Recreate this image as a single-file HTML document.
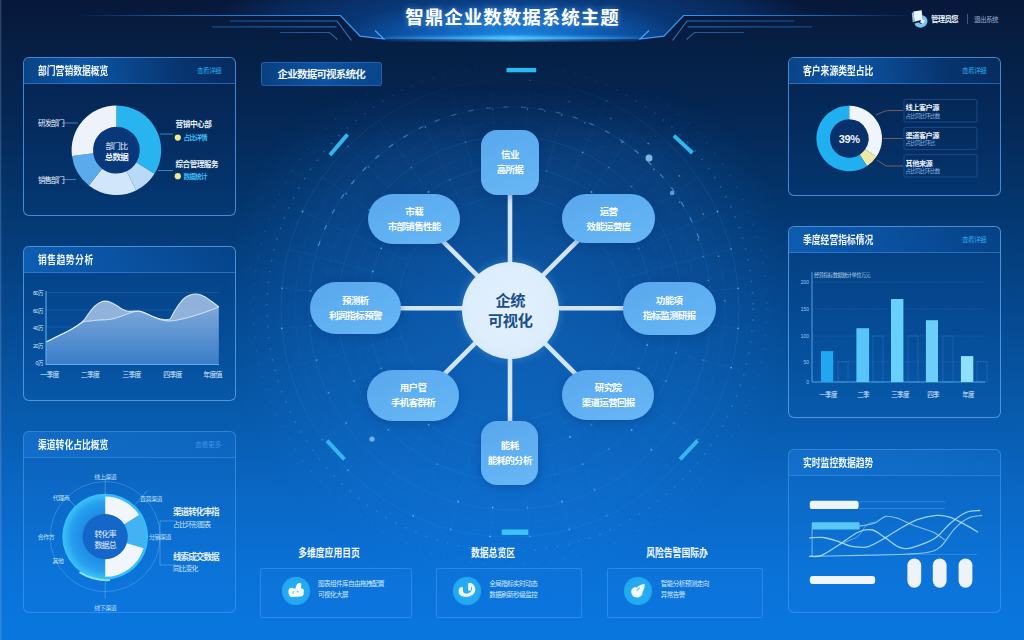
<!DOCTYPE html>
<html lang="zh-CN">
<head>
<meta charset="utf-8">
<title>智鼎企业数数据系统主题</title>
<style>
html,body{margin:0;padding:0;}
body{width:1024px;height:640px;overflow:hidden;background:#0d4ea8;font-family:"Liberation Sans","Noto Sans CJK SC",sans-serif;color:#fff;}
#app{position:relative;width:1024px;height:640px;overflow:hidden;
 background:linear-gradient(180deg,#07183a 0%,#062045 8%,#052653 17%,#04356c 31%,#05468c 47%,#0758a8 62.5%,#0a68c6 78%,#0a72d8 90%,#0976de 98%);}
#bgsvg{position:absolute;left:0;top:0;width:1024px;height:640px;}
.panel{position:absolute;box-sizing:border-box;border:1.2px solid rgba(58,140,230,.75);border-radius:6px;overflow:hidden;}
.panel .hd{position:absolute;left:0;top:0;right:0;height:26px;box-sizing:border-box;border-bottom:1px solid rgba(58,140,230,.55);}
.panel .hd .t{position:absolute;left:14px;top:0;line-height:26px;font-size:11px;color:#f2f8ff;white-space:nowrap;font-weight:700;transform:scaleX(.8);transform-origin:0 50%;}
.panel .hd .m{position:absolute;right:14px;top:0;line-height:26px;font-size:6.5px;letter-spacing:-.5px;color:#2fa8f0;white-space:nowrap;}
.panel svg{position:absolute;left:-1.2px;top:-1.2px;}
.dk{background:rgba(10,70,150,.10);border-color:rgba(84,150,228,.85);}
.dk .hd{background:linear-gradient(90deg,rgba(12,88,170,.6) 0%,rgba(14,96,182,.82) 28%,rgba(10,74,154,.4) 75%,rgba(10,70,150,.22) 100%);}
.lt{background:rgba(40,140,245,.07);border-color:rgba(80,160,245,.55);}
.lt .hd{background:linear-gradient(90deg,rgba(50,150,250,.2),rgba(40,140,245,.08));border-bottom-color:rgba(80,160,245,.4);}
.md{background:rgba(14,90,180,.10);border-color:rgba(92,164,240,.8);}
.md .hd{background:linear-gradient(90deg,rgba(20,112,210,.6) 0%,rgba(18,104,200,.5) 35%,rgba(14,90,180,.15) 100%);border-bottom-color:rgba(66,150,235,.5);}
.title{position:absolute;left:0;width:1024px;top:5.5px;text-align:center;font-size:18.5px;font-weight:700;letter-spacing:1px;text-indent:1px;line-height:24px;color:#fff;text-shadow:0 0 6px rgba(120,190,255,.6);}
.tag{position:absolute;left:260.5px;top:62px;width:121.5px;height:24px;box-sizing:border-box;border:1px solid rgba(44,116,200,.6);border-radius:3px;background:linear-gradient(90deg,#08407f,#0c52a2 50%,#094589);font-size:10.5px;line-height:22.5px;text-align:center;letter-spacing:-.8px;color:#f4f9ff;font-weight:700;}
.node{position:absolute;box-sizing:border-box;background:linear-gradient(160deg,#59a6ec 0%,#5fb0f2 50%,#68b6f4 100%);color:#fff;text-align:center;font-size:9px;line-height:15px;display:flex;flex-direction:column;justify-content:center;align-items:center;box-shadow:0 2px 10px rgba(10,50,120,.35);}
.node b{font-weight:700;font-size:9.5px;letter-spacing:-.6px;}
.node span{font-weight:700;font-size:9.5px;letter-spacing:-.7px;white-space:nowrap;}
.pill{border-radius:25px;width:92.5px;height:50px;}
.sq{border-radius:16px;width:57.5px;height:64.5px;}
.hub{position:absolute;left:461.6px;top:261.5px;width:97.4px;height:97.4px;border-radius:50%;background:radial-gradient(circle at 50% 48%,#e4f1fd 0%,#dcedfc 60%,#cfe5f9 100%);box-shadow:0 0 10px rgba(150,205,255,.3);color:#1a4f8c;display:flex;flex-direction:column;justify-content:center;align-items:center;font-weight:500;}
.hub span{position:relative;top:.8px;font-size:15.2px;line-height:20px;letter-spacing:-.3px;font-weight:700;}
.bh{position:absolute;top:544.5px;font-size:11px;line-height:16px;color:#f4f9ff;white-space:nowrap;transform:translateX(-50%) scaleX(.8);font-weight:700;}
.card{position:absolute;top:568px;height:50px;box-sizing:border-box;border:1px solid rgba(70,155,245,.55);border-radius:2px;background:rgba(30,125,230,.12);}
.card .ic{position:absolute;left:21px;top:8.2px;width:28px;height:28px;border-radius:50%;background:radial-gradient(circle,#27b0f3 0%,#22a8f0 70%,#1e9eec 100%);box-shadow:0 0 2px rgba(40,150,235,.6);}
.card .ic svg{position:absolute;left:0;top:0;}
.card p{position:absolute;left:57px;margin:0;font-size:6.6px;line-height:9px;letter-spacing:-.6px;color:#d6ebff;white-space:nowrap;}
.usr{position:absolute;top:13.8px;font-size:7.5px;line-height:12px;letter-spacing:-.8px;white-space:nowrap;}
</style>
</head>
<body>
<div id="app">

<svg id="bgsvg" viewBox="0 0 1024 640">
<defs>
<radialGradient id="hg" cx="512" cy="38" r="310" gradientUnits="userSpaceOnUse" gradientTransform="translate(0 26.6) scale(1 .3)">
<stop offset="0" stop-color="#0e58b0" stop-opacity=".9"/><stop offset=".5" stop-color="#0b4c9e" stop-opacity=".6"/><stop offset=".8" stop-color="#0b4c9e" stop-opacity=".3"/><stop offset="1" stop-color="#0b4c9e" stop-opacity="0"/></radialGradient>
<radialGradient id="hg2" cx="512" cy="39" r="175" gradientUnits="userSpaceOnUse" gradientTransform="translate(0 30) scale(1 .23)">
<stop offset="0" stop-color="#2098f0" stop-opacity=".98"/><stop offset=".45" stop-color="#1474d8" stop-opacity=".62"/><stop offset="1" stop-color="#1060c0" stop-opacity="0"/></radialGradient>
<linearGradient id="hl" x1="385" x2="640" y1="0" y2="0" gradientUnits="userSpaceOnUse"><stop offset="0" stop-color="#2a8cf0" stop-opacity=".2"/><stop offset=".5" stop-color="#55c4ff" stop-opacity="1"/><stop offset="1" stop-color="#2a8cf0" stop-opacity=".2"/></linearGradient>
<linearGradient id="ll" x1="78" x2="385" y1="0" y2="0" gradientUnits="userSpaceOnUse"><stop offset="0" stop-color="#2b86e8" stop-opacity="0"/><stop offset=".35" stop-color="#2b86e8" stop-opacity=".7"/><stop offset="1" stop-color="#45a4ff" stop-opacity="1"/></linearGradient>
<linearGradient id="lr" x1="912" x2="639" y1="0" y2="0" gradientUnits="userSpaceOnUse"><stop offset="0" stop-color="#2b86e8" stop-opacity="0"/><stop offset=".35" stop-color="#2b86e8" stop-opacity=".7"/><stop offset="1" stop-color="#45a4ff" stop-opacity="1"/></linearGradient>
<radialGradient id="cg" cx="510" cy="308" r="290" gradientUnits="userSpaceOnUse"><stop offset="0" stop-color="#1d80e8" stop-opacity=".34"/><stop offset=".283" stop-color="#1d80e8" stop-opacity=".28"/><stop offset=".572" stop-color="#1d80e8" stop-opacity=".19"/><stop offset=".672" stop-color="#1d80e8" stop-opacity=".175"/><stop offset=".828" stop-color="#1d80e8" stop-opacity=".09"/><stop offset="1" stop-color="#1d80e8" stop-opacity="0"/></radialGradient>
<linearGradient id="mg" x1="0" x2="0" y1="55" y2="150" gradientUnits="userSpaceOnUse"><stop offset="0" stop-color="#fff" stop-opacity=".05"/><stop offset="1" stop-color="#fff" stop-opacity="1"/></linearGradient><mask id="wm" maskUnits="userSpaceOnUse" x="240" y="40" width="540" height="540"><rect x="240" y="40" width="540" height="540" fill="url(#mg)"/></mask>
<linearGradient id="mg2" x1="0" x2="0" y1="85" y2="150" gradientUnits="userSpaceOnUse"><stop offset="0" stop-color="#fff" stop-opacity="0"/><stop offset="1" stop-color="#fff" stop-opacity="1"/></linearGradient><mask id="gm" maskUnits="userSpaceOnUse" x="200" y="0" width="620" height="640"><rect x="200" y="0" width="620" height="640" fill="url(#mg2)"/></mask>
<filter id="bl"><feGaussianBlur stdDeviation="1.5"/></filter>
</defs>
<path d="M0 0H1024V15.5H683.5L664 36L640 39H384L360 36L340.5 15.5H0Z" fill="url(#hg)"/>
<path d="M0 0H1024V15.5H683.5L664 36L640 39H384L360 36L340.5 15.5H0Z" fill="url(#hg2)"/>
<rect x="385" y="36" width="255" height="5" fill="url(#hl)" filter="url(#bl)"/>
<rect x="385" y="37.3" width="255" height="1.8" fill="url(#hl)"/>
<g fill="none" stroke-width="1.2">
<path d="M76 15.5H340.5L360 36.2L384 39L375 30.5" stroke="url(#ll)"/>
<path d="M230 21H337L351.5 40.5" stroke="url(#ll)" stroke-opacity=".7"/>
<path d="M212 26.8H336.5" stroke="url(#ll)" stroke-opacity=".6"/>
<path d="M280 32.5H329.5L337.5 39.5" stroke="url(#ll)" stroke-opacity=".55"/>
<path d="M912 15.5H683.5L664 36.2L640 39L649 30.5" stroke="url(#lr)"/>
<path d="M794 21H687L672.5 40.5" stroke="url(#lr)" stroke-opacity=".7"/>
<path d="M812 26.8H687.5" stroke="url(#lr)" stroke-opacity=".6"/>
<path d="M744 32.5H694.5L686.5 39.5" stroke="url(#lr)" stroke-opacity=".55"/>
</g>
<circle cx="510" cy="308" r="290" fill="url(#cg)" mask="url(#gm)"/>
<g mask="url(#wm)">
<g fill="none" stroke="#49a8f2" stroke-width=".8">
<circle cx="510" cy="308.3" r="112" stroke-opacity="0.13"/>
<circle cx="510" cy="308.3" r="127" stroke-opacity="0.1" stroke-dasharray="14 5"/>
<circle cx="510" cy="308.3" r="142" stroke-opacity="0.14"/>
<circle cx="510" cy="308.3" r="157" stroke-opacity="0.1" stroke-dasharray="20 6"/>
<circle cx="510" cy="308.3" r="172" stroke-opacity="0.15"/>
<circle cx="510" cy="308.3" r="186" stroke-opacity="0.1" stroke-dasharray="9 5"/>
<circle cx="510" cy="308.3" r="215" stroke-opacity="0.1" stroke-dasharray="16 7"/>
<circle cx="510" cy="308.3" r="229" stroke-opacity="0.17"/>
<path d="M318.4 246.0A201.5 201.5 0 0 1 701.6 246.0" stroke="#62bcf4" stroke-opacity=".55" stroke-width="1.3" stroke-dasharray="5 12.6"/>
<circle cx="510" cy="308.3" r="201.5" stroke-opacity=".16"/>
<circle cx="510" cy="308.3" r="243" stroke-opacity=".4" stroke-width="1.4" stroke-dasharray="1.6 9.5"/>
<circle cx="510" cy="308.3" r="257" stroke-opacity=".25" stroke-width="1.2" stroke-dasharray="1.4 12"/>
</g>
<g stroke="#49a8f2" stroke-opacity=".11" stroke-width=".8">
<line x1="621.6" y1="318.1" x2="738.1" y2="328.3"/>
<line x1="647.2" y1="345.1" x2="731.2" y2="367.6"/>
<line x1="611.5" y1="355.6" x2="717.5" y2="405.1"/>
<line x1="626.3" y1="389.7" x2="697.6" y2="439.6"/>
<line x1="589.2" y1="387.5" x2="671.9" y2="470.2"/>
<line x1="591.4" y1="424.6" x2="641.3" y2="495.9"/>
<line x1="557.3" y1="409.8" x2="606.8" y2="515.8"/>
<line x1="546.8" y1="445.5" x2="569.3" y2="529.5"/>
<line x1="519.8" y1="419.9" x2="530.0" y2="536.4"/>
<line x1="497.6" y1="449.8" x2="490.0" y2="536.4"/>
<line x1="481.0" y1="416.5" x2="450.7" y2="529.5"/>
<line x1="450.0" y1="437.0" x2="413.2" y2="515.8"/>
<line x1="445.8" y1="400.0" x2="378.7" y2="495.9"/>
<line x1="409.6" y1="408.7" x2="348.1" y2="470.2"/>
<line x1="418.3" y1="372.5" x2="322.4" y2="439.6"/>
<line x1="381.3" y1="368.3" x2="302.5" y2="405.1"/>
<line x1="401.8" y1="337.3" x2="288.8" y2="367.6"/>
<line x1="368.5" y1="320.7" x2="281.9" y2="328.3"/>
<line x1="398.4" y1="298.5" x2="281.9" y2="288.3"/>
<line x1="372.8" y1="271.5" x2="288.8" y2="249.0"/>
<line x1="408.5" y1="261.0" x2="302.5" y2="211.5"/>
<line x1="393.7" y1="226.9" x2="322.4" y2="177.0"/>
<line x1="430.8" y1="229.1" x2="348.1" y2="146.4"/>
<line x1="428.6" y1="192.0" x2="378.7" y2="120.7"/>
<line x1="462.7" y1="206.8" x2="413.2" y2="100.8"/>
<line x1="473.2" y1="171.1" x2="450.7" y2="87.1"/>
<line x1="500.2" y1="196.7" x2="490.0" y2="80.2"/>
<line x1="522.4" y1="166.8" x2="530.0" y2="80.2"/>
<line x1="539.0" y1="200.1" x2="569.3" y2="87.1"/>
<line x1="570.0" y1="179.6" x2="606.8" y2="100.8"/>
<line x1="574.2" y1="216.6" x2="641.3" y2="120.7"/>
<line x1="610.4" y1="207.9" x2="671.9" y2="146.4"/>
<line x1="601.7" y1="244.1" x2="697.6" y2="177.0"/>
<line x1="638.7" y1="248.3" x2="717.5" y2="211.5"/>
<line x1="618.2" y1="279.3" x2="731.2" y2="249.0"/>
<line x1="651.5" y1="295.9" x2="738.1" y2="288.3"/>
</g>
<g fill="#7fd0fb">
<circle cx="651.5" cy="320.7" r=".9" fill-opacity="0.35"/>
<circle cx="681.3" cy="323.3" r=".9" fill-opacity="0.35"/>
<circle cx="709.2" cy="325.7" r=".9" fill-opacity="0.7"/>
<circle cx="738.1" cy="328.3" r=".9" fill-opacity="0.7"/>
<circle cx="647.2" cy="345.1" r=".9" fill-opacity="0.7"/>
<circle cx="676.1" cy="352.8" r=".9" fill-opacity="0.35"/>
<circle cx="703.2" cy="360.1" r=".9" fill-opacity="0.35"/>
<circle cx="731.2" cy="367.6" r=".9" fill-opacity="0.7"/>
<circle cx="638.7" cy="368.3" r=".9" fill-opacity="0.7"/>
<circle cx="665.9" cy="381.0" r=".9" fill-opacity="0.35"/>
<circle cx="626.3" cy="389.7" r=".9" fill-opacity="0.7"/>
<circle cx="650.9" cy="407.0" r=".9" fill-opacity="0.35"/>
<circle cx="673.8" cy="423.0" r=".9" fill-opacity="0.35"/>
<circle cx="697.6" cy="439.6" r=".9" fill-opacity="0.35"/>
<circle cx="610.4" cy="408.7" r=".9" fill-opacity="0.7"/>
<circle cx="631.6" cy="429.9" r=".9" fill-opacity="0.7"/>
<circle cx="651.4" cy="449.7" r=".9" fill-opacity="0.7"/>
<circle cx="591.4" cy="424.6" r=".9" fill-opacity="0.35"/>
<circle cx="608.7" cy="449.2" r=".9" fill-opacity="0.35"/>
<circle cx="570.0" cy="437.0" r=".9" fill-opacity="0.7"/>
<circle cx="582.7" cy="464.2" r=".9" fill-opacity="0.5"/>
<circle cx="594.5" cy="489.6" r=".9" fill-opacity="0.5"/>
<circle cx="606.8" cy="515.8" r=".9" fill-opacity="0.35"/>
<circle cx="561.8" cy="501.5" r=".9" fill-opacity="0.7"/>
<circle cx="569.3" cy="529.5" r=".9" fill-opacity="0.5"/>
<circle cx="527.4" cy="507.5" r=".9" fill-opacity="0.35"/>
<circle cx="530.0" cy="536.4" r=".9" fill-opacity="0.5"/>
<circle cx="497.6" cy="449.8" r=".9" fill-opacity="0.5"/>
<circle cx="495.0" cy="479.6" r=".9" fill-opacity="0.5"/>
<circle cx="492.6" cy="507.5" r=".9" fill-opacity="0.7"/>
<circle cx="490.0" cy="536.4" r=".9" fill-opacity="0.7"/>
<circle cx="458.2" cy="501.5" r=".9" fill-opacity="0.7"/>
<circle cx="450.7" cy="529.5" r=".9" fill-opacity="0.5"/>
<circle cx="437.3" cy="464.2" r=".9" fill-opacity="0.35"/>
<circle cx="413.2" cy="515.8" r=".9" fill-opacity="0.7"/>
<circle cx="428.6" cy="424.6" r=".9" fill-opacity="0.7"/>
<circle cx="388.4" cy="429.9" r=".9" fill-opacity="0.5"/>
<circle cx="348.1" cy="470.2" r=".9" fill-opacity="0.5"/>
<circle cx="393.7" cy="389.7" r=".9" fill-opacity="0.7"/>
<circle cx="369.1" cy="407.0" r=".9" fill-opacity="0.35"/>
<circle cx="346.2" cy="423.0" r=".9" fill-opacity="0.5"/>
<circle cx="322.4" cy="439.6" r=".9" fill-opacity="0.35"/>
<circle cx="381.3" cy="368.3" r=".9" fill-opacity="0.5"/>
<circle cx="354.1" cy="381.0" r=".9" fill-opacity="0.5"/>
<circle cx="328.7" cy="392.8" r=".9" fill-opacity="0.5"/>
<circle cx="316.8" cy="360.1" r=".9" fill-opacity="0.5"/>
<circle cx="338.7" cy="323.3" r=".9" fill-opacity="0.35"/>
<circle cx="310.8" cy="325.7" r=".9" fill-opacity="0.35"/>
<circle cx="281.9" cy="328.3" r=".9" fill-opacity="0.7"/>
<circle cx="368.5" cy="295.9" r=".9" fill-opacity="0.5"/>
<circle cx="310.8" cy="290.9" r=".9" fill-opacity="0.5"/>
<circle cx="281.9" cy="288.3" r=".9" fill-opacity="0.5"/>
<circle cx="372.8" cy="271.5" r=".9" fill-opacity="0.7"/>
<circle cx="381.3" cy="248.3" r=".9" fill-opacity="0.7"/>
<circle cx="302.5" cy="211.5" r=".9" fill-opacity="0.7"/>
<circle cx="369.1" cy="209.6" r=".9" fill-opacity="0.5"/>
<circle cx="346.2" cy="193.6" r=".9" fill-opacity="0.5"/>
<circle cx="409.6" cy="207.9" r=".9" fill-opacity="0.35"/>
<circle cx="368.6" cy="166.9" r=".9" fill-opacity="0.35"/>
<circle cx="348.1" cy="146.4" r=".9" fill-opacity="0.35"/>
<circle cx="428.6" cy="192.0" r=".9" fill-opacity="0.7"/>
<circle cx="411.3" cy="167.4" r=".9" fill-opacity="0.35"/>
<circle cx="450.0" cy="179.6" r=".9" fill-opacity="0.35"/>
<circle cx="425.5" cy="127.0" r=".9" fill-opacity="0.5"/>
<circle cx="465.5" cy="142.2" r=".9" fill-opacity="0.35"/>
<circle cx="497.6" cy="166.8" r=".9" fill-opacity="0.5"/>
<circle cx="495.0" cy="137.0" r=".9" fill-opacity="0.35"/>
<circle cx="492.6" cy="109.1" r=".9" fill-opacity="0.5"/>
<circle cx="522.4" cy="166.8" r=".9" fill-opacity="0.7"/>
<circle cx="525.0" cy="137.0" r=".9" fill-opacity="0.35"/>
<circle cx="527.4" cy="109.1" r=".9" fill-opacity="0.7"/>
<circle cx="530.0" cy="80.2" r=".9" fill-opacity="0.7"/>
<circle cx="546.8" cy="171.1" r=".9" fill-opacity="0.35"/>
<circle cx="561.8" cy="115.1" r=".9" fill-opacity="0.7"/>
<circle cx="582.7" cy="152.4" r=".9" fill-opacity="0.5"/>
<circle cx="606.8" cy="100.8" r=".9" fill-opacity="0.35"/>
<circle cx="591.4" cy="192.0" r=".9" fill-opacity="0.7"/>
<circle cx="608.7" cy="167.4" r=".9" fill-opacity="0.35"/>
<circle cx="631.6" cy="186.7" r=".9" fill-opacity="0.35"/>
<circle cx="626.3" cy="226.9" r=".9" fill-opacity="0.7"/>
<circle cx="650.9" cy="209.6" r=".9" fill-opacity="0.7"/>
<circle cx="673.8" cy="193.6" r=".9" fill-opacity="0.35"/>
<circle cx="638.7" cy="248.3" r=".9" fill-opacity="0.35"/>
<circle cx="717.5" cy="211.5" r=".9" fill-opacity="0.7"/>
<circle cx="703.2" cy="256.5" r=".9" fill-opacity="0.35"/>
<circle cx="731.2" cy="249.0" r=".9" fill-opacity="0.5"/>
<circle cx="651.5" cy="295.9" r=".9" fill-opacity="0.35"/>
<circle cx="681.3" cy="293.3" r=".9" fill-opacity="0.7"/>
<circle cx="738.1" cy="288.3" r=".9" fill-opacity="0.7"/>
</g>
<g fill="#e0b070" fill-opacity=".6">
<circle cx="544.7" cy="111.3" r=".8"/>
<circle cx="569.3" cy="101.6" r=".8"/>
<circle cx="584.9" cy="122.9" r=".8"/>
<circle cx="610.9" cy="118.5" r=".8"/>
<circle cx="621.8" cy="142.5" r=".8"/>
<circle cx="648.2" cy="143.6" r=".8"/>
<circle cx="653.9" cy="169.4" r=".8"/>
<circle cx="679.4" cy="175.9" r=".8"/>
<circle cx="679.6" cy="202.3" r=".8"/>
<circle cx="703.2" cy="214.1" r=".8"/>
<circle cx="697.9" cy="239.9" r=".8"/>
<circle cx="718.6" cy="256.3" r=".8"/>
<circle cx="708.1" cy="280.5" r=".8"/>
<circle cx="724.9" cy="300.8" r=".8"/>
</g>
</g>
<g stroke="#d3e6f9" stroke-width="4.6" stroke-linecap="butt">
<line x1="510" y1="308.3" x2="510" y2="190"/>
<line x1="510" y1="308.3" x2="510" y2="425"/>
<line x1="510" y1="308.3" x2="400" y2="308.3"/>
<line x1="510" y1="308.3" x2="625" y2="308.3"/>
<line x1="510" y1="308.3" x2="442" y2="240.3"/>
<line x1="510" y1="308.3" x2="578" y2="240.3"/>
<line x1="510" y1="308.3" x2="444" y2="374.3"/>
<line x1="510" y1="308.3" x2="576" y2="374.3"/>
</g>
<g stroke="#33b5ef" stroke-width="4" stroke-linecap="butt">
<line x1="330" y1="155" x2="347.5" y2="134.5"/>
<line x1="673.8" y1="135.6" x2="692.5" y2="153"/>
<line x1="327" y1="440.6" x2="344.4" y2="459.4"/>
<line x1="680" y1="459.4" x2="697.5" y2="440.6"/>
<line x1="506.5" y1="70.1" x2="536.2" y2="70.1" stroke-width="4.4" stroke="#2cbaf2"/>
<line x1="501.7" y1="532.2" x2="528.3" y2="532.2" stroke-width="5.5" stroke="#3cc4f8"/>
</g>
<g fill="#9fd4fb">
<circle cx="649" cy="158" r="3.5" fill-opacity=".8"/><circle cx="672" cy="193" r="2.2" fill-opacity=".6"/><circle cx="372" cy="439" r="2.6" fill-opacity=".7"/>
</g>
</svg>
<div style="position:absolute;left:0;top:0;width:2px;height:640px;background:linear-gradient(90deg,rgba(190,210,255,.28),rgba(190,210,255,0))"></div>
<div class="title">智鼎企业数数据系统主题</div>
<svg style="position:absolute;left:908.5px;top:8px" width="22" height="22" viewBox="0 0 20 20">
<path d="M4 3.2L11.5 2L12.5 10.5L5 12.5Z" fill="#e9f4ff"/><path d="M2.6 5L4 3.2L5 12.5L3.4 13Z" fill="#9fc8ef"/>
<path d="M11.5 6.5C15 7 17.5 9.5 16.6 13.2C15.8 16.6 12 18.6 8.6 17.6C6.5 17 5.4 15.6 5 14L9 13C9.4 14 10.6 14.6 12 14C13.4 13.4 13.6 11.6 12.6 10.6Z" fill="#7cc4f7"/>
<path d="M11.5 9.5L14.6 11.5L12.6 14.6L10 13Z" fill="#dff0ff"/>
</svg>
<div class="usr" style="left:931px;color:#eef6ff;font-weight:700;">管理员您</div>
<div style="position:absolute;left:967px;top:13.5px;width:1px;height:10px;background:rgba(70,120,200,.7)"></div>
<div class="usr" style="left:974px;color:#9db4d6;font-size:6.5px;letter-spacing:-.5px;">退出系统</div>
<div class="tag">企业数据可视系统化</div>
<div class="node sq" style="left:481.2px;top:130.2px;width:57.5px;height:64.5px;"><b>信业</b><span>高所据</span></div>
<div class="node pill" style="left:368px;top:193.6px;width:92.3px;height:50.2px;border-radius:25.1px;"><b>市载</b><span>市部销售性能</span></div>
<div class="node pill" style="left:561.9px;top:193.9px;width:93.4px;height:49.5px;border-radius:24.8px;"><b>运营</b><span>效能运营度</span></div>
<div class="node pill" style="left:309.7px;top:281.9px;width:91.4px;height:52.3px;border-radius:26.1px;"><b>预测析</b><span>利润指标预警</span></div>
<div class="node pill" style="left:622.5px;top:281.9px;width:93.3px;height:52.8px;border-radius:26.4px;"><b>功能项</b><span>指标监测研报</span></div>
<div class="node pill" style="left:366.6px;top:370px;width:92.9px;height:50.8px;border-radius:25.4px;"><b>用户管</b><span>手机客群析</span></div>
<div class="node pill" style="left:561.9px;top:369.8px;width:92.5px;height:50px;border-radius:25.0px;"><b>研究院</b><span>渠道运营回报</span></div>
<div class="node sq" style="left:481px;top:420.5px;width:57.4px;height:64.9px;"><b>能耗</b><span>能耗的分析</span></div>
<div class="hub"><span>企统</span><span>可视化</span></div>
<div class="panel dk" style="left:23px;top:57px;width:213px;height:159px">
<div class="hd"><span class="t">部门营销数据概览</span><span class="m">查看详细</span></div>
<svg width="213" height="159" viewBox="23 57 213 159">
<circle cx="116.4" cy="150.2" r="24" fill="#09387a"/>
<path d="M116.40 105.40A44.8 44.8 0 0 1 154.52 173.74L136.31 162.50A23.4 23.4 0 0 0 116.40 126.80Z" fill="#27b4ef" />
<path d="M154.52 173.74A44.8 44.8 0 0 1 136.04 190.47L126.66 171.23A23.4 23.4 0 0 0 136.31 162.50Z" fill="#b9d9f8" />
<path d="M136.04 190.47A44.8 44.8 0 0 1 88.82 185.50L101.99 168.64A23.4 23.4 0 0 0 126.66 171.23Z" fill="#d2e6fb" />
<path d="M88.82 185.50A44.8 44.8 0 0 1 71.98 156.05L93.20 153.25A23.4 23.4 0 0 0 101.99 168.64Z" fill="#5babec" />
<path d="M71.98 156.05A44.8 44.8 0 0 1 116.40 105.40L116.40 126.80A23.4 23.4 0 0 0 93.20 153.25Z" fill="#eef3fb" />
<g stroke="#4a98dc" stroke-width=".8" fill="none"><path d="M62 123H78"/><path d="M62 179.5H76"/><path d="M160 134H173"/><path d="M158 170.5H173"/></g>
<circle cx="177.8" cy="137.6" r="3.1" fill="#f0ec8e"/><circle cx="177.8" cy="176.2" r="3.1" fill="#f0ec8e"/>
<g font-family="Liberation Sans, Noto Sans CJK SC, sans-serif" fill="#eef6ff">
<text x="38" y="126" font-size="7.5" letter-spacing="-1.1">研发部门</text>
<text x="38" y="182.5" font-size="7.5" letter-spacing="-1.1">销售部门</text>
<text x="175.5" y="127.2" font-size="7.6" letter-spacing="-.4" font-weight="700">营销中心部</text>
<text x="183.5" y="140.2" font-size="6.6" letter-spacing="-.8" fill="#3cbcf6" font-weight="700">占比详情</text>
<text x="175.5" y="166.6" font-size="7.6" letter-spacing="-.5" font-weight="700">综合管理服务</text>
<text x="183.5" y="178.8" font-size="6.6" letter-spacing="-.8" fill="#3cbcf6" font-weight="700">数据统计</text>
<text x="116.4" y="149" font-size="8" text-anchor="middle" letter-spacing="-.8">部门比</text>
<text x="116.4" y="160" font-size="8.5" text-anchor="middle" letter-spacing="-.8" font-weight="700">总数据</text>
</g></svg></div>
<div class="panel md" style="left:23px;top:246px;width:213px;height:155px">
<div class="hd"><span class="t" style="letter-spacing:.6px">销售趋势分析</span></div>
<svg width="213" height="155" viewBox="23 246 213 155">
<defs><linearGradient id="ag" x1="0" x2="0" y1="292" y2="365" gradientUnits="userSpaceOnUse"><stop offset="0" stop-color="#a6c6ea" stop-opacity=".88"/><stop offset="1" stop-color="#4f8eda" stop-opacity=".72"/></linearGradient><linearGradient id="ag2" x1="0" x2="0" y1="292" y2="365" gradientUnits="userSpaceOnUse"><stop offset="0" stop-color="#9cc2ee" stop-opacity=".45"/><stop offset="1" stop-color="#5d9ee4" stop-opacity=".15"/></linearGradient></defs>
<g stroke="#4c9ae8" stroke-opacity=".35" stroke-width=".7">
<line x1="46" x2="219" y1="292.7" y2="292.7"/>
<line x1="46" x2="219" y1="310" y2="310"/>
<line x1="46" x2="219" y1="327" y2="327"/>
<line x1="46" x2="219" y1="345" y2="345"/>
</g>
<path d="M46.0 342.0C47.7 341.2 52.6 338.7 56.0 337.0C59.4 335.3 63.0 333.8 66.3 332.0C69.6 330.2 73.2 328.2 76.0 326.5C78.8 324.8 80.9 322.9 83.2 322.0C85.5 321.1 87.2 321.3 90.0 321.0C92.8 320.7 96.5 320.3 100.0 320.0C103.5 319.7 107.6 319.9 111.3 319.2C115.0 318.5 118.7 317.1 122.0 316.0C125.3 314.9 128.1 313.3 131.0 312.5C133.9 311.7 137.1 311.1 139.4 311.2C141.7 311.3 143.1 312.3 145.0 313.0C146.9 313.7 148.7 314.7 150.7 315.6C152.7 316.5 155.1 317.8 157.0 318.5C158.9 319.2 159.8 319.6 162.0 320.0C164.2 320.4 167.4 321.1 170.4 321.0C173.4 320.9 176.7 320.2 180.0 319.5C183.3 318.8 186.7 317.9 190.0 317.0C193.3 316.1 196.7 315.1 200.0 314.0C203.3 312.9 206.9 311.7 210.0 310.5C213.1 309.3 217.3 307.6 218.8 307.0L218.8 364.5L46 364.5Z" fill="url(#ag)"/>
<path d="M46.0 342.0C47.7 341.2 52.6 338.7 56.0 337.0C59.4 335.3 63.0 333.8 66.3 332.0C69.6 330.2 73.2 328.3 76.0 326.5C78.8 324.7 81.0 323.2 83.2 321.0C85.4 318.8 87.1 315.4 89.0 313.0C90.9 310.6 92.6 308.2 94.4 306.5C96.2 304.8 98.1 303.4 100.0 302.5C101.9 301.6 103.9 301.1 105.7 301.1C107.5 301.1 109.1 301.7 111.0 302.5C112.9 303.3 115.0 304.6 117.0 305.8C119.0 307.0 121.1 308.6 123.0 309.5C124.9 310.4 126.4 311.1 128.2 311.3C130.0 311.6 132.1 311.0 134.0 311.0C135.9 311.0 137.6 310.9 139.4 311.2C141.2 311.5 143.1 312.3 145.0 313.0C146.9 313.7 148.7 314.8 150.7 315.6C152.7 316.4 155.1 317.4 157.0 318.0C158.9 318.6 160.3 319.1 162.0 319.4C163.7 319.7 165.6 319.8 167.0 319.6C168.4 319.5 169.2 319.8 170.4 318.5C171.6 317.2 172.6 314.3 174.0 312.0C175.4 309.7 177.1 306.8 178.8 304.5C180.5 302.2 182.1 300.1 184.0 298.5C185.9 296.9 188.0 295.8 190.0 295.0C192.0 294.2 194.2 294.0 196.0 294.0C197.8 294.0 199.3 294.4 201.0 295.0C202.7 295.6 204.3 296.5 206.0 297.5C207.7 298.5 209.5 299.9 211.0 301.0C212.5 302.1 213.7 303.0 215.0 304.0C216.3 305.0 218.2 306.5 218.8 307.0L218.8 307.0C217.3 307.6 213.1 309.3 210.0 310.5C206.9 311.7 203.3 312.9 200.0 314.0C196.7 315.1 193.3 316.1 190.0 317.0C186.7 317.9 183.3 318.8 180.0 319.5C176.7 320.2 173.4 320.9 170.4 321.0C167.4 321.1 164.2 320.4 162.0 320.0C159.8 319.6 158.9 319.2 157.0 318.5C155.1 317.8 152.7 316.5 150.7 315.6C148.7 314.7 146.9 313.7 145.0 313.0C143.1 312.3 141.7 311.3 139.4 311.2C137.1 311.1 133.9 311.7 131.0 312.5C128.1 313.3 125.3 314.9 122.0 316.0C118.7 317.1 115.0 318.5 111.3 319.2C107.6 319.9 103.5 319.7 100.0 320.0C96.5 320.3 92.8 320.7 90.0 321.0C87.2 321.3 85.5 321.1 83.2 322.0C80.9 322.9 78.8 324.8 76.0 326.5C73.2 328.2 69.6 330.2 66.3 332.0C63.0 333.8 59.4 335.3 56.0 337.0C52.6 338.7 47.7 341.2 46.0 342.0Z" fill="#a8c4e6" fill-opacity=".86"/>
<path d="M46.0 342.0C47.7 341.2 52.6 338.7 56.0 337.0C59.4 335.3 63.0 333.8 66.3 332.0C69.6 330.2 73.2 328.3 76.0 326.5C78.8 324.7 81.0 323.2 83.2 321.0C85.4 318.8 87.1 315.4 89.0 313.0C90.9 310.6 92.6 308.2 94.4 306.5C96.2 304.8 98.1 303.4 100.0 302.5C101.9 301.6 103.9 301.1 105.7 301.1C107.5 301.1 109.1 301.7 111.0 302.5C112.9 303.3 115.0 304.6 117.0 305.8C119.0 307.0 121.1 308.6 123.0 309.5C124.9 310.4 126.4 311.1 128.2 311.3C130.0 311.6 132.1 311.0 134.0 311.0C135.9 311.0 137.6 310.9 139.4 311.2C141.2 311.5 143.1 312.3 145.0 313.0C146.9 313.7 148.7 314.8 150.7 315.6C152.7 316.4 155.1 317.4 157.0 318.0C158.9 318.6 160.3 319.1 162.0 319.4C163.7 319.7 165.6 319.8 167.0 319.6C168.4 319.5 169.2 319.8 170.4 318.5C171.6 317.2 172.6 314.3 174.0 312.0C175.4 309.7 177.1 306.8 178.8 304.5C180.5 302.2 182.1 300.1 184.0 298.5C185.9 296.9 188.0 295.8 190.0 295.0C192.0 294.2 194.2 294.0 196.0 294.0C197.8 294.0 199.3 294.4 201.0 295.0C202.7 295.6 204.3 296.5 206.0 297.5C207.7 298.5 209.5 299.9 211.0 301.0C212.5 302.1 213.7 303.0 215.0 304.0C216.3 305.0 218.2 306.5 218.8 307.0" fill="none" stroke="#e6f1fd" stroke-width="1.1" stroke-opacity=".9"/>
<path d="M46.0 342.0C47.7 341.2 52.6 338.7 56.0 337.0C59.4 335.3 63.0 333.8 66.3 332.0C69.6 330.2 73.2 328.2 76.0 326.5C78.8 324.8 80.9 322.9 83.2 322.0C85.5 321.1 87.2 321.3 90.0 321.0C92.8 320.7 96.5 320.3 100.0 320.0C103.5 319.7 107.6 319.9 111.3 319.2C115.0 318.5 118.7 317.1 122.0 316.0C125.3 314.9 128.1 313.3 131.0 312.5C133.9 311.7 137.1 311.1 139.4 311.2C141.7 311.3 143.1 312.3 145.0 313.0C146.9 313.7 148.7 314.7 150.7 315.6C152.7 316.5 155.1 317.8 157.0 318.5C158.9 319.2 159.8 319.6 162.0 320.0C164.2 320.4 167.4 321.1 170.4 321.0C173.4 320.9 176.7 320.2 180.0 319.5C183.3 318.8 186.7 317.9 190.0 317.0C193.3 316.1 196.7 315.1 200.0 314.0C203.3 312.9 206.9 311.7 210.0 310.5C213.1 309.3 217.3 307.6 218.8 307.0" fill="none" stroke="#e6f1fd" stroke-width="1" stroke-opacity=".85"/>
<path d="M46 291V364.5H219" fill="none" stroke="#58aef5" stroke-width="1.1"/>
<g font-family="Liberation Sans, Noto Sans CJK SC, sans-serif" fill="#d9ebff" font-size="5.6">
<text x="43" y="295" text-anchor="end" letter-spacing="-.6">80万</text>
<text x="43" y="312.5" text-anchor="end" letter-spacing="-.6">60万</text>
<text x="43" y="330" text-anchor="end" letter-spacing="-.6">40万</text>
<text x="43" y="347.5" text-anchor="end" letter-spacing="-.6">20万</text>
<text x="43" y="365" text-anchor="end" letter-spacing="-.6">0万</text>
<text x="49.5" y="377" text-anchor="middle" font-size="7" letter-spacing="-.9">一季度</text>
<text x="90" y="377" text-anchor="middle" font-size="7" letter-spacing="-.9">二季度</text>
<text x="131.5" y="377" text-anchor="middle" font-size="7" letter-spacing="-.9">三季度</text>
<text x="172.5" y="377" text-anchor="middle" font-size="7" letter-spacing="-.9">四季度</text>
<text x="212.5" y="377" text-anchor="middle" font-size="7" letter-spacing="-.9">年度值</text>
</g></svg></div>
<div class="panel lt" style="left:23px;top:431px;width:213px;height:182px">
<div class="hd"><span class="t">渠道转化占比概览</span><span class="m" style="color:#3d8fe6;font-size:7px">查看更多</span></div>
<svg width="213" height="182" viewBox="23 431 213 182">
<circle cx="105.2" cy="536.6" r="55" fill="none" stroke="#7cc8f8" stroke-opacity=".4" stroke-width=".8"/>
<defs><radialGradient id="rg3" cx="105.2" cy="536.6" r="42.9" gradientUnits="userSpaceOnUse"><stop offset=".52" stop-color="#1e8ce6"/><stop offset=".8" stop-color="#279fee"/><stop offset=".93" stop-color="#33b8f6"/><stop offset="1" stop-color="#3ac2f8"/></radialGradient></defs>
<circle cx="105.2" cy="536.6" r="42.9" fill="url(#rg3)"/>
<path d="M105.20 496.40A40.2 40.2 0 0 1 139.18 515.12L123.80 524.84A22 22 0 0 0 105.20 514.60Z" fill="#f1f6fd" />
<path d="M139.18 515.12A40.2 40.2 0 0 1 143.64 548.35L126.24 543.03A22 22 0 0 0 123.80 524.84Z" fill="#43b2f2" />
<path d="M143.64 548.35A40.2 40.2 0 0 1 105.20 576.80L105.20 558.60A22 22 0 0 0 126.24 543.03Z" fill="#f1f6fd" />
<circle cx="105.2" cy="536.6" r="22.6" fill="#1466c8"/>
<path d="M80.2 572.6Q93.2 580.6 109.2 580.1" stroke="#8fe0fb" stroke-width="2" fill="none" stroke-linecap="round"/>
<g stroke="#7cc6f8" stroke-opacity=".55" stroke-width=".8" fill="none">
<path d="M105.2 498.6V476.6"/><path d="M105.2 579.6V598.6"/><path d="M135.2 504.6L147.2 490.6"/><path d="M75.2 506.6L65.2 494.6"/>
<path d="M160 521H176M160 521V565H176M160 540H152"/>
</g>
<g font-family="Liberation Sans, Noto Sans CJK SC, sans-serif" fill="#e6f3ff">
<text x="105.2" y="478.5" font-size="6" text-anchor="middle" letter-spacing="-.5" fill="#bfe0fb">线上渠道</text>
<text x="105.2" y="610" font-size="6" text-anchor="middle" letter-spacing="-.5" fill="#bfe0fb">线下渠道</text>
<text x="61" y="500" font-size="6" text-anchor="middle" letter-spacing="-.5" fill="#bfe0fb">代理商</text>
<text x="151" y="501" font-size="6" text-anchor="middle" letter-spacing="-.5" fill="#bfe0fb">直营渠道</text>
<text x="46" y="539" font-size="6" text-anchor="middle" letter-spacing="-.5" fill="#bfe0fb">合作方</text>
<text x="160" y="538.5" font-size="6" text-anchor="middle" letter-spacing="-.5" fill="#bfe0fb">分销渠道</text>
<text x="58" y="563" font-size="6" text-anchor="middle" letter-spacing="-.5" fill="#bfe0fb">其他</text>
<text x="173" y="515" font-size="8.6" letter-spacing="-1" font-weight="700">渠道转化率指</text>
<text x="173" y="527" font-size="7" letter-spacing="-.8" fill="#cde6fd">占比环形图表</text>
<text x="173" y="560" font-size="8.6" letter-spacing="-1" font-weight="700">线索成交数据</text>
<text x="173" y="571" font-size="7" letter-spacing="-.8" fill="#cde6fd">同比变化</text>
<text x="105.2" y="537" font-size="8" text-anchor="middle" letter-spacing="-.8">转化率</text>
<text x="105.2" y="547.5" font-size="8" text-anchor="middle" letter-spacing="-.8">数据总</text>
</g></svg></div>
<div class="panel dk" style="left:788px;top:57px;width:213px;height:139px">
<div class="hd"><span class="t">客户来源类型占比</span><span class="m">查看详细</span></div>
<svg width="213" height="139" viewBox="788 57 213 139">
<circle cx="849.2" cy="138.5" r="20" fill="#08306a"/>
<path d="M849.20 105.70A32.8 32.8 0 0 1 876.39 156.84L865.20 149.29A19.3 19.3 0 0 0 849.20 119.20Z" fill="#f0f5fc" />
<path d="M876.39 156.84A32.8 32.8 0 0 1 867.06 166.01L859.71 154.69A19.3 19.3 0 0 0 865.20 149.29Z" fill="#ece9a6" />
<path d="M867.06 166.01A32.8 32.8 0 1 1 849.20 105.70L849.20 119.20A19.3 19.3 0 1 0 859.71 154.69Z" fill="#20aff0" />
<g fill="none" stroke="#2f6ab8" stroke-opacity=".55" stroke-width=".9"><rect x="904" y="99.5" width="73" height="22.5" rx="1.5"/><rect x="904" y="127.4" width="73" height="22" rx="1.5"/><rect x="904" y="154.7" width="73" height="22.3" rx="1.5"/></g>
<g fill="none" stroke="#b07a5a" stroke-opacity=".8" stroke-width=".8"><path d="M876 115Q886 110 890 110.5H903"/><path d="M883 138.5H903"/><path d="M877 160L886 166H903"/></g>
<g font-family="Liberation Sans, Noto Sans CJK SC, sans-serif" fill="#eef6ff">
<text x="905.5" y="110.3" font-size="7.2" letter-spacing="-.5" font-weight="700">线上客户源</text>
<text x="905.5" y="117.5" font-size="5.4" letter-spacing="-.5" fill="#8dbbe8">占比同比环比数</text>
<text x="905.5" y="138.2" font-size="7.2" letter-spacing="-.5" font-weight="700">渠道客户源</text>
<text x="905.5" y="145.4" font-size="5.4" letter-spacing="-.5" fill="#8dbbe8">占比同比环比</text>
<text x="905.5" y="165.5" font-size="7.2" letter-spacing="-.5" font-weight="700">其他来源</text>
<text x="905.5" y="172.7" font-size="5.4" letter-spacing="-.5" fill="#8dbbe8">占比同比环比数</text>
<text x="849.2" y="142.5" font-size="11" text-anchor="middle" letter-spacing="-.3" font-weight="700">39%</text>
</g></svg></div>
<div class="panel md" style="left:788px;top:226px;width:213px;height:192px">
<div class="hd"><span class="t">季度经营指标情况</span><span class="m">查看详细</span></div>
<svg width="213" height="192" viewBox="788 226 213 192">
<g stroke="#58a8f0" stroke-opacity=".3" stroke-width=".7">
<line x1="812" x2="985" y1="282.2" y2="282.2" stroke-dasharray="1.5 1.5"/>
<line x1="812" x2="985" y1="309" y2="309" stroke-dasharray="1.5 1.5"/>
<line x1="812" x2="985" y1="336" y2="336" stroke-dasharray="1.5 1.5"/>
<line x1="812" x2="985" y1="361.8" y2="361.8" stroke-dasharray="1.5 1.5"/>
</g>
<g fill="none" stroke="#7fc0f7" stroke-opacity=".28" stroke-width=".6">
<rect x="838" y="361.8" width="10" height="20.2"/>
<rect x="873" y="336" width="10" height="46.0"/>
<rect x="908" y="336" width="10" height="46.0"/>
<rect x="943" y="336" width="10" height="46.0"/>
<rect x="977" y="361.8" width="10" height="20.2"/>
</g>
<path d="M812 272V382H985" fill="none" stroke="#62b4f7" stroke-opacity=".8" stroke-width="1"/>
<rect x="821" y="351.1" width="12.2" height="30.9" fill="#20a7f0"/>
<rect x="856.4" y="328.2" width="12.7" height="53.8" fill="#58c5f8"/>
<rect x="891" y="299" width="12.4" height="83.0" fill="#68d1fb"/>
<rect x="925.9" y="320.2" width="12.1" height="61.8" fill="#6ccffa"/>
<rect x="960.9" y="356.1" width="12.4" height="25.9" fill="#90dffc"/>
<g font-family="Liberation Sans, Noto Sans CJK SC, sans-serif" fill="#d9ebff">
<text x="814" y="276.5" font-size="5.2" letter-spacing="-.5" fill-opacity=".85">经营指标数据统计单位万元</text>
<text x="809" y="284" font-size="5" text-anchor="end" fill="#9cc8f2">200</text>
<text x="809" y="311" font-size="5" text-anchor="end" fill="#9cc8f2">150</text>
<text x="809" y="338" font-size="5" text-anchor="end" fill="#9cc8f2">100</text>
<text x="809" y="364" font-size="5" text-anchor="end" fill="#9cc8f2">50</text>
<text x="809" y="384" font-size="5" text-anchor="end" fill="#9cc8f2">0</text>
<text x="828" y="396.5" font-size="6.6" text-anchor="middle" letter-spacing="-.8">一季度</text>
<text x="863" y="396.5" font-size="6.6" text-anchor="middle" letter-spacing="-.8">二季</text>
<text x="900" y="396.5" font-size="6.6" text-anchor="middle" letter-spacing="-.8">三季度</text>
<text x="933" y="396.5" font-size="6.6" text-anchor="middle" letter-spacing="-.8">四季</text>
<text x="968" y="396.5" font-size="6.6" text-anchor="middle" letter-spacing="-.8">年度</text>
</g></svg></div>
<div class="panel lt" style="left:788px;top:449px;width:213px;height:164px">
<div class="hd"><span class="t">实时监控数据趋势</span></div>
<svg width="213" height="164" viewBox="788 449 213 164">
<g stroke="#9fd4fa" stroke-opacity=".35" stroke-width=".7"><line x1="859" x2="945" y1="501.7" y2="501.7"/><line x1="859" x2="945" y1="508.5" y2="508.5"/><line x1="864" x2="977" y1="554.4" y2="554.4"/></g>
<line x1="812.1" x2="812.1" y1="529" y2="556.5" stroke="#9fd4fa" stroke-opacity=".7" stroke-width="1"/>
<path d="M809.8 537.9C812.0 537.8 818.6 536.8 823.4 537.5C828.3 538.1 834.5 540.3 839.1 541.8C843.6 543.2 847.2 545.3 850.8 546.2C854.4 547.2 857.6 547.2 860.5 547.2C863.5 547.3 864.8 547.9 868.4 546.6C871.9 545.4 877.1 542.6 882.0 539.8C886.9 537.0 891.8 533.4 897.7 530.0C903.5 526.7 910.7 522.1 917.2 519.7C923.7 517.2 931.2 515.8 936.7 515.4C942.3 515.0 945.5 515.7 950.4 517.3C955.3 519.0 961.5 522.7 966.0 525.2C970.6 527.6 975.8 530.9 977.7 532.0" fill="none" stroke="#b8e4fc" stroke-opacity="0.85" stroke-width="1.3" stroke-linecap="round"/>
<path d="M809.8 556.4C811.7 556.2 816.6 557.4 821.5 555.4C826.4 553.5 832.9 548.6 839.1 544.7C845.2 540.8 853.1 534.4 858.6 532.0C864.1 529.6 868.0 529.2 872.3 530.0C876.5 530.9 879.8 534.1 884.0 536.9C888.2 539.6 893.8 544.7 897.7 546.6C901.6 548.6 903.5 548.9 907.4 548.6C911.3 548.3 916.2 546.6 921.1 544.7C926.0 542.7 931.8 540.5 936.7 536.9C941.6 533.3 945.5 527.3 950.4 523.2C955.3 519.1 961.1 514.6 966.0 512.5C970.9 510.3 977.4 510.8 979.7 510.5" fill="none" stroke="#b8e4fc" stroke-opacity="0.85" stroke-width="1.3" stroke-linecap="round"/>
<path d="M859.6 526.1C862.0 525.6 869.8 524.8 874.2 523.2C878.6 521.6 882.0 517.2 885.9 516.4C889.8 515.6 893.1 516.9 897.7 518.3C902.2 519.8 907.4 522.9 913.3 525.2C919.1 527.4 927.6 529.6 932.8 532.0C938.0 534.4 942.6 538.5 944.5 539.8" fill="none" stroke="#b8e4fc" stroke-opacity="0.7" stroke-width="1.1" stroke-linecap="round"/>
<path d="M809.8 556.4C813.0 556.3 821.2 556.2 829.3 556.0C837.4 555.9 847.2 555.7 858.6 555.4C870.0 555.2 886.3 554.9 897.7 554.5C909.0 554.0 919.8 553.8 927.0 552.5C934.1 551.2 936.1 550.5 940.6 546.6C945.2 542.7 949.7 533.8 954.3 529.1C958.9 524.3 963.4 520.6 968.0 518.3C972.5 516.0 979.4 515.9 981.6 515.4" fill="none" stroke="#b8e4fc" stroke-opacity="0.75" stroke-width="1.2" stroke-linecap="round"/>
<path d="M839.1 544.7C841.0 543.9 847.5 541.3 850.8 539.8C854.0 538.3 856.0 538.3 858.6 535.9C861.2 533.5 863.8 527.4 866.4 525.2C869.0 522.9 872.9 522.7 874.2 522.2" fill="none" stroke="#b8e4fc" stroke-opacity="0.5" stroke-width="0.9" stroke-linecap="round"/>
<rect x="809.8" y="500.7" width="48.8" height="8.4" rx="2.6" fill="#f0f5fc"/>
<rect x="811.7" y="522.2" width="47.9" height="7.4" rx="1.2" fill="#5ac8f5"/>
<rect x="809.8" y="576" width="65.4" height="8.1" rx="3" fill="#f0f5fc"/>
<rect x="907.4" y="558.4" width="13.8" height="29.3" rx="6.9" fill="#eef2fb"/>
<rect x="932.8" y="558.4" width="13.8" height="29.3" rx="6.9" fill="#eef2fb"/>
<rect x="958.6" y="558.4" width="13.8" height="29.3" rx="6.9" fill="#eef2fb"/>
</svg></div>
<div class="bh" style="left:329px">多维度应用目页</div>
<div class="bh" style="left:493px">数据总览区</div>
<div class="bh" style="left:677px">风险告警国际办</div>
<div class="card" style="left:260px;width:152px"><div class="ic" style="left:21px"><svg width="28" height="28" viewBox="0 0 28 28"><path d="M6.4 14.5C6.2 11.6 8.6 10 11 11.2L13.6 11.6C13.8 8.6 15.4 5.8 17.6 5.8C19.6 5.9 19.6 8.4 19 10.4L19.4 11.6C21.8 11.6 22.6 13.8 21.6 15.4C22.2 17.6 20.6 19.6 18 19.6L10.4 20.1C7.8 20.2 6.5 17.6 6.4 14.5Z" fill="#f4faff"/><path d="M11.2 14.2V16.8M14.6 14.6L16.8 14.9" stroke="#5cc0f5" stroke-width="1" fill="none"/></svg></div><p style="top:9.5px;left:57px">图表组件库自由拖拽配置</p><p style="top:21px;left:57px">可视化大屏</p></div>
<div class="card" style="left:436.3px;width:145.5px"><div class="ic" style="left:15.7px"><svg width="28" height="28" viewBox="0 0 28 28"><path d="M17.2 5.8C21 6.8 23 10.6 22.1 14C21.1 18 16.4 20.6 10.6 19.6C7.2 19 5.5 17 5.6 14.2C5.7 11.2 7.4 9.6 9.6 10L10.3 15.2C12 17.4 16 16.8 17.9 14.8C19.6 12.8 19.2 10 17.3 8.6Z" fill="#f4faff"/><path d="M15.2 6H18V13.6H15.2Z" fill="#f4faff"/></svg></div><p style="top:9.5px;left:52px">全局指标实时动态</p><p style="top:21px;left:52px">数据刷新秒级监控</p></div>
<div class="card" style="left:607px;width:156px"><div class="ic" style="left:16px"><svg width="28" height="28" viewBox="0 0 28 28"><path d="M7.2 15C7 11.2 10.4 9.4 13 10.5C15 8.4 18 7 20.6 7C20.8 10 20 13 18.5 15C19 18 16 20.8 12.5 20.5C9.5 20.3 7.4 18 7.2 15Z" fill="#f4faff"/><path d="M12.6 13.8L15.8 10.6" stroke="#5cc0f5" stroke-width="1.1" fill="none"/></svg></div><p style="top:9.5px;left:52.7px">智能分析预测走向</p><p style="top:21px;left:52.7px">异常告警</p></div>
</div>
</body>
</html>
